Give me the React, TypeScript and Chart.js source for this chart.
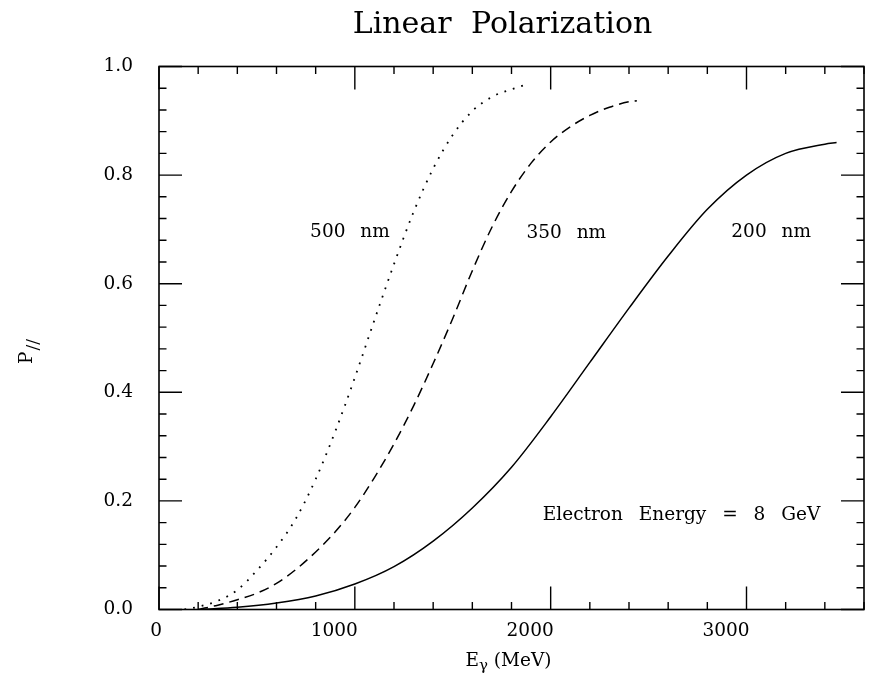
import { useEffect, useRef } from 'react';
import { Chart, registerables } from 'chart.js';

Chart.register(...registerables);

// Axis ranges and tick marks
const X_MIN = 0;
const X_MAX = 3600;
const Y_MIN = 0;
const Y_MAX = 1;
const X_TICKS = [0, 1000, 2000, 3000];
const Y_TICKS = [0, 0.2, 0.4, 0.6, 0.8, 1.0];
const X_MINOR_STEP = 200;
const Y_MINOR_STEP = 0.04;

// Photon energy (MeV) and linear polarization for each laser wavelength
const E_500NM = [130, 200, 300, 400, 500, 600, 700, 800, 900, 1000, 1100, 1200, 1300, 1400, 1500, 1600, 1700, 1800, 1870];
const P_500NM = [0.0, 0.005, 0.016, 0.036, 0.072, 0.115, 0.168, 0.24, 0.328, 0.427, 0.533, 0.636, 0.732, 0.812, 0.874, 0.918, 0.944, 0.958, 0.966];

const E_350NM = [200, 300, 400, 500, 600, 700, 800, 900, 1000, 1100, 1200, 1300, 1400, 1500, 1600, 1700, 1800, 1900, 2000, 2100, 2200, 2300, 2400, 2440];
const P_350NM = [0.0, 0.008, 0.018, 0.03, 0.048, 0.074, 0.106, 0.143, 0.188, 0.243, 0.305, 0.375, 0.453, 0.536, 0.624, 0.704, 0.77, 0.822, 0.861, 0.889, 0.91, 0.925, 0.935, 0.937];

const E_200NM = [220, 400, 600, 800, 1000, 1200, 1400, 1600, 1800, 2000, 2200, 2400, 2600, 2800, 3000, 3200, 3400, 3460];
const P_200NM = [0.0, 0.004, 0.012, 0.025, 0.047, 0.079, 0.126, 0.187, 0.262, 0.355, 0.455, 0.555, 0.651, 0.737, 0.8, 0.84, 0.857, 0.86];

// Curve labels: [text, energy, polarization]
const CURVE_LABELS: [string, number, number][] = [
  ['500 nm', 975, 0.695],
  ['350 nm', 2080, 0.693],
  ['200 nm', 3126, 0.695],
];
const BEAM_NOTE = 'Electron Energy = 8 GeV';
const BEAM_NOTE_POS = [1960, 0.174];

const TITLE = 'Linear Polarization';
const FONT = 'DejaVu Serif';
const INK = '#000';

const toPoints = (xs: number[], ys: number[]) => xs.map((x, i) => ({ x, y: ys[i] }));

const frameAndTicks = {
  id: 'frameAndTicks',
  afterDatasetsDraw(chart: any) {
    const { ctx, chartArea } = chart;
    const { left, right, top, bottom } = chartArea;
    const xs = chart.scales.x;
    const ys = chart.scales.y;
    ctx.save();
    ctx.strokeStyle = INK;
    ctx.lineWidth = 1.6;
    ctx.strokeRect(left, top, right - left, bottom - top);
    ctx.beginPath();
    for (let v = X_MIN; v <= X_MAX + 1e-6; v += X_MINOR_STEP) {
      const px = xs.getPixelForValue(v);
      const len = X_TICKS.includes(v) ? 23 : 7.5;
      ctx.moveTo(px, bottom);
      ctx.lineTo(px, bottom - len);
      ctx.moveTo(px, top);
      ctx.lineTo(px, top + len);
    }
    for (let k = 0; k * Y_MINOR_STEP <= Y_MAX + 1e-6; k++) {
      const py = ys.getPixelForValue(k * Y_MINOR_STEP);
      const len = k % 5 === 0 ? 23 : 7.5;
      ctx.moveTo(left, py);
      ctx.lineTo(left + len, py);
      ctx.moveTo(right, py);
      ctx.lineTo(right - len, py);
    }
    ctx.lineWidth = 1.4;
    ctx.stroke();
    ctx.restore();
  },
  afterDraw(chart: any) {
    const { ctx, chartArea } = chart;
    const xs = chart.scales.x;
    const ys = chart.scales.y;
    const c = ctx as any;
    ctx.save();
    ctx.fillStyle = INK;

    // title
    ctx.font = `30px "${FONT}"`;
    ctx.textAlign = 'center';
    ctx.textBaseline = 'alphabetic';
    c.wordSpacing = '10px';
    ctx.fillText(TITLE, (chartArea.left + chartArea.right) / 2 - 9, 33);

    // curve labels and beam note
    ctx.font = `18.5px "${FONT}"`;
    ctx.textBaseline = 'middle';
    c.wordSpacing = '9px';
    for (const [text, e, p] of CURVE_LABELS) {
      ctx.textAlign = 'center';
      ctx.fillText(text, xs.getPixelForValue(e), ys.getPixelForValue(p));
    }
    c.wordSpacing = '10px';
    ctx.textAlign = 'left';
    ctx.fillText(BEAM_NOTE, xs.getPixelForValue(BEAM_NOTE_POS[0]), ys.getPixelForValue(BEAM_NOTE_POS[1]));

    // x-axis title: E with subscript gamma, then unit
    c.wordSpacing = '5px';
    ctx.textBaseline = 'alphabetic';
    ctx.textAlign = 'left';
    const base = 666;
    ctx.font = `18.5px "${FONT}"`;
    const wE = ctx.measureText('E').width;
    const unit = ' (MeV)';
    const wUnit = ctx.measureText(unit).width;
    ctx.font = `15px "${FONT}"`;
    const wG = ctx.measureText('γ').width;
    const total = wE + wG + wUnit;
    const x0 = (chartArea.left + chartArea.right) / 2 - 3 - total / 2;
    ctx.font = `18.5px "${FONT}"`;
    ctx.fillText('E', x0, base);
    ctx.font = `15px "${FONT}"`;
    ctx.fillText('γ', x0 + wE, base + 4);
    ctx.font = `18.5px "${FONT}"`;
    ctx.fillText(unit, x0 + wE + wG, base);

    // y-axis title: P with parallel subscript, rotated
    ctx.save();
    ctx.translate(chartArea.left - 128, 352);
    ctx.rotate(-Math.PI / 2);
    c.wordSpacing = '0px';
    ctx.font = `18.5px "${FONT}"`;
    const wP = ctx.measureText('P').width;
    ctx.font = `17px "${FONT}"`;
    const wS = ctx.measureText('//').width;
    const t = wP + wS;
    ctx.font = `18.5px "${FONT}"`;
    ctx.fillText('P', -t / 2, 1);
    ctx.font = `17px "${FONT}"`;
    ctx.fillText('//', -t / 2 + wP + 1, 7);
    ctx.restore();

    ctx.restore();
  },
};

export default function App() {
  const canvasRef = useRef<HTMLCanvasElement | null>(null);

  useEffect(() => {
    const canvas = canvasRef.current;
    if (!canvas) return;
    const tickFont = { family: FONT, size: 18.5 };
    const chart = new Chart(canvas, {
      type: 'line',
      data: {
        datasets: [
          {
            label: '500 nm',
            data: toPoints(E_500NM, P_500NM),
            borderColor: INK,
            borderWidth: 1.8,
            borderDash: [1.8, 7],
            pointRadius: 0,
            cubicInterpolationMode: 'monotone',
            fill: false,
          },
          {
            label: '350 nm',
            data: toPoints(E_350NM, P_350NM),
            borderColor: INK,
            borderWidth: 1.5,
            borderDash: [10, 6],
            pointRadius: 0,
            cubicInterpolationMode: 'monotone',
            fill: false,
          },
          {
            label: '200 nm',
            data: toPoints(E_200NM, P_200NM),
            borderColor: INK,
            borderWidth: 1.5,
            pointRadius: 0,
            cubicInterpolationMode: 'monotone',
            fill: false,
          },
        ],
      },
      options: {
        animation: false,
        responsive: false,
        events: [],
        layout: { padding: { top: 66.5, right: 7, left: 0, bottom: 0 } },
        plugins: {
          legend: { display: false },
          tooltip: { enabled: false },
          title: { display: false },
        },
        scales: {
          x: {
            type: 'linear',
            min: X_MIN,
            max: X_MAX,
            grid: { display: false, drawTicks: false },
            border: { display: false },
            ticks: {
              font: tickFont,
              color: INK,
              padding: 11,
              align: 'end',
              labelOffset: 3,
              maxRotation: 0,
              autoSkip: false,
              callback: (v: any) => String(v),
            },
            afterBuildTicks: (scale: any) => {
              scale.ticks = X_TICKS.map((value) => ({ value }));
            },
            afterFit: (scale: any) => {
              scale.height = 69.5;
            },
          },
          y: {
            type: 'linear',
            min: Y_MIN,
            max: Y_MAX,
            grid: { display: false, drawTicks: false },
            border: { display: false },
            ticks: {
              font: tickFont,
              color: INK,
              padding: 26,
              autoSkip: false,
              callback: (v: any) => Number(v).toFixed(1),
            },
            afterBuildTicks: (scale: any) => {
              scale.ticks = Y_TICKS.map((value) => ({ value }));
            },
            afterFit: (scale: any) => {
              scale.width = 159;
            },
          },
        },
      } as any,
      plugins: [frameAndTicks],
    });
    return () => chart.destroy();
  }, []);

  return (
    <div style={{ position: 'fixed', left: 0, top: 0, width: 871, height: 679, background: '#fff' }}>
      <canvas ref={canvasRef} width={871} height={679} style={{ display: 'block' }} />
    </div>
  );
}
